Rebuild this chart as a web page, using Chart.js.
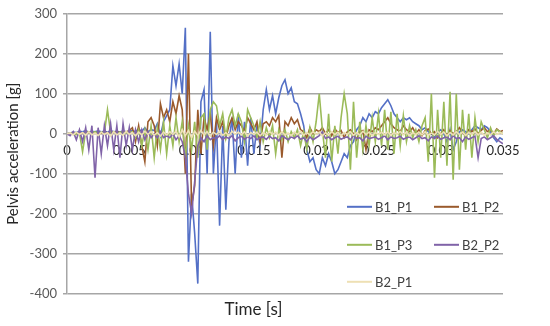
<!DOCTYPE html>
<html>
<head>
<meta charset="utf-8">
<script src="https://cdn.jsdelivr.net/npm/chart.js@4/dist/chart.umd.min.js"></script>
<style>
  html, body { margin: 0; padding: 0; background: #fff; }
  #wrap { width: 550px; height: 326px; }
</style>
</head>
<body>
<div id="wrap"><canvas id="myChart"></canvas></div>
<script>
// time axis: 0 .. 0.035 s, one sample every 0.25 ms
var time = [];
for (var i = 0; i <= 140; i++) {
  time.push(i * 0.00025);
}

var xTicks = [0, 0.005, 0.01, 0.015, 0.02, 0.025, 0.03, 0.035];
var seriesNames = ["B1_P1", "B1_P2", "B1_P3", "B2_P2", "B2_P1"];
var seriesColors = ["#5470C6", "#9A5A2C", "#9BBB59", "#8063A8", "#EEE0B4"];

var b1p1 = [
  0, 2, 4, 3, 6, 5, 8, 4, 6, 5,
  7, 5, 6, 4, 8, 5, 6, 4, 7, 5,
  6, 8, 5, 12, 6, 15, 5, 10, 8, 25,
  -5, 30, 45, 60, 170, 120, 175, 100, 265, -320,
  -150, -250, -375, 80, 110, -100, 255, -100, 30, -230,
  20, -190, -20, 40, -100, 50, -60, 30, -80, 40,
  -50, 20, -30, 60, 110, 60, 95, 50, 90, 120,
  135, 100, 115, 80, 75, 50, 20, -40, -70, -60,
  -90, -100, -60, -80, -50, -70, -100, -90, -70, -50,
  -60, -30, -20, 10, 20, 40, 30, 50, 40, 55,
  50, 65, 75, 85, 70, 50, 40, 30, 40, 35,
  40, 30, 25, 20, 10, 15, 5, 0, -10, 5,
  10, 0, -20, 10, -40, -20, 5, 10, 5, 0,
  10, 20, 15, 10, 20, 15, 5, -10, -20, -10,
  -15
];

var b1p2 = [
  0, 1, 2, 0, 3, 1, 2, 4, 0, 3,
  2, 1, 5, 2, 4, 3, 6, 2, 5, 4,
  8, 15, -20, 20, -30, -70, 30, 40, 20, -30,
  75, 40, 60, 30, 80, 50, 95, 60, -100, 200,
  -180, -130, 60, -50, 40, 10, 50, -30, 40, 10,
  30, -10, 20, 40, 10, 30, 20, 5, 40, 25,
  10, 30, -20, 25, 30, 20, 40, 30, 45, -60,
  30, 20, 40, 25, 35, 10, 5, -10, 15, 0,
  10, 5, 15, 0, 10, -5, 12, 3, 8, -10,
  5, 10, 0, -15, 5, 8, -40, 10, 5, 15,
  10, 20, 30, 40, 25, 15, 10, 5, 20, 10,
  5, 15, 0, 10, -5, 8, 12, 0, 5, -10,
  0, 10, -5, 8, 0, 5, 15, 3, -5, 10,
  5, 12, 0, 8, 15, 5, 10, 0, 12, 5,
  8
];

var b1p3 = [
  0, 1, 3, -2, 2, -45, 5, 3, 2, 5,
  0, 4, 2, 60, 3, 5, 0, 4, 3, 2,
  5, 5, -10, 10, -30, 10, -40, 20, -60, 15,
  -40, 30, -50, 20, -30, 40, -20, 30, -60, 20,
  -40, 30, -60, 40, 50, -40, 60, 80, 70, 20,
  50, -10, 40, 60, 20, 50, 30, -20, 60, 40,
  20, -10, 30, -20, 15, -10, 20, -50, 10, -15,
  10, -20, 5, -10, 10, -30, 5, -40, 15, -20,
  30, 100, 10, -60, 50, -70, 20, -50, 40, 100,
  50, -90, 80, -60, 30, -40, 20, -30, 40, -20,
  50, -30, 60, -40, 55, -50, 50, -30, 45, -20,
  20, -10, 10, -20, 20, 40, -70, 100, -110, 60,
  -60, 80, -80, 105, -115, 100, -90, 60, -40, 50,
  -60, 40, -20, 30, 10, -10, 15, -5, 10, 5,
  0
];

var b2p2 = [
  0, -5, 5, -15, 10, -20, 15, -40, 20, -110,
  15, -50, 20, -30, 25, -40, 20, -60, 25, -30,
  15, -40, 10, -20, 10, -15, 5, -10, 0, -10,
  5, -10, -5, -10, 0, -15, -5, -20, -60, -150,
  -200, -120, -30, -10, -20, -5, -15, -10, -12, -5,
  -15, -8, -12, -5, -18, -10, -6, -14, -8, -12,
  -5, -15, -10, -8, -14, -6, -12, -10, -18, -5,
  -10, -15, -8, -12, -5, -14, -10, -20, -8, -15,
  -10, -5, 5, -12, -8, -15, -10, -6, -14, -10,
  -8, -15, -5, -12, -10, -18, -6, -12, -10, -8,
  -14, -10, -5, -15, -8, -12, -10, -6, -14, -10,
  -8, -15, -10, -5, -12, -10, -18, -8, -12, -6,
  -14, -10, -8, -15, -5, -12, -10, -20, -8, -14,
  -10, -6, -60, -12, -8, -15, -10, -5, -14, -20,
  -25
];

var b2p1 = [
  0, 2, -3, 4, -2, 3, -4, 5, -3, 2,
  -5, 4, -2, 3, -6, 5, -3, 2, -4, 6,
  -2, 3, -5, 4, -3, 6, -2, 5, -4, 3,
  -6, 4, -3, 5, -2, 6, -8, 10, -5, 8,
  -10, 6, -4, 8, -3, 5, -6, 4, -2, 6,
  -4, 3, -5, 6, -2, 4, -3, 5, -6, 3,
  -2, 4, -5, 3, -3, 6, -2, 4, -4, 5,
  -3, 2, -5, 4, -2, 6, -4, 3, -3, 5,
  -2, 4, -6, 3, -3, 5, -2, 4, -5, 3,
  -2, 5, -4, 3, -3, 6, -2, 4, -5, 3,
  -2, 4, -3, 5, -4, 3, -2, 6, -3, 4,
  -5, 3, -2, 4, -3, 5, -4, 2, -3, 6,
  -2, 4, -5, 3, -3, 5, -2, 4, -4, 3,
  -2, 5, -3, 4, -4, 2, -3, 5, -2, 3,
  0
];

var seriesValues = [b1p1, b1p2, b1p3, b2p2, b2p1];

function toPoints(values) {
  var pts = [];
  for (var i = 0; i < values.length; i++) {
    pts.push({ x: time[i], y: values[i] });
  }
  return pts;
}

var datasets = [];
for (var s = 0; s < seriesNames.length; s++) {
  datasets.push({
    label: seriesNames[s],
    data: toPoints(seriesValues[s]),
    borderColor: seriesColors[s],
    backgroundColor: seriesColors[s],
    borderWidth: 1.6,
    pointRadius: 0,
    tension: 0,
    // Excel style: later series on top
    order: seriesNames.length - s,
  });
}

// legend drawn inside the plot, lower right, two columns
var legendInside = {
  id: "legendInside",
  afterDraw: function (chart) {
    var c = chart.ctx;
    var area = chart.chartArea;
    var cols = [area.left + 280, area.left + 367];
    var rows = [area.top + 193, area.top + 231, area.top + 268];
    c.save();
    c.font = "13px Lato";
    c.textBaseline = "middle";
    c.fillStyle = "#404040";
    for (var k = 0; k < seriesNames.length; k++) {
      var x = cols[k % 2];
      var y = rows[Math.floor(k / 2)];
      c.strokeStyle = seriesColors[k];
      c.lineWidth = 2;
      c.beginPath();
      c.moveTo(x, y);
      c.lineTo(x + 25, y);
      c.stroke();
      c.fillText(seriesNames[k], x + 28, y + 1);
    }
    c.restore();
  },
};

var ctx = document.getElementById("myChart");
var myChart = new Chart(ctx, {
  type: "line",
  data: { datasets: datasets },
  options: {
    responsive: true,
    maintainAspectRatio: false,
    animation: false,
    layout: { padding: { left: 4, right: 47, top: 10, bottom: 2 } },
    plugins: {
      legend: { display: false },
      tooltip: { enabled: false },
      title: {
        display: true,
        position: "bottom",
        text: "Time [s]",
        color: "#262626",
        font: { family: "Lato", size: 17, weight: "normal" },
        padding: { top: 6, bottom: 4 },
      },
    },
    scales: {
      x: {
        type: "linear",
        position: { y: 0 },
        min: 0,
        max: 0.035,
        afterBuildTicks: function (scale) {
          scale.ticks = xTicks.map(function (v) { return { value: v }; });
        },
        grid: { display: false },
        border: { display: false },
        ticks: {
          autoSkip: false,
          maxRotation: 0,
          padding: 1,
          color: "#262626",
          font: { family: "Lato", size: 13 },
          callback: function (v) { return v === 0 ? "0" : String(+v.toFixed(3)); },
        },
      },
      y: {
        min: -400,
        max: 300,
        afterFit: function (scale) { scale.width = 63; },
        ticks: {
          stepSize: 100,
          padding: 6,
          color: "#595959",
          font: { family: "Lato", size: 13 },
        },
        grid: { color: "#A6A6A6", lineWidth: 1.5, tickLength: 4 },
        border: { color: "#A6A6A6", width: 1.5 },
        title: {
          display: true,
          text: "Pelvis acceleration [g]",
          color: "#262626",
          font: { family: "Lato", size: 15 },
          padding: { top: 0, bottom: 0 },
        },
      },
    },
  },
  plugins: [legendInside],
});
</script>
</body>
</html>
